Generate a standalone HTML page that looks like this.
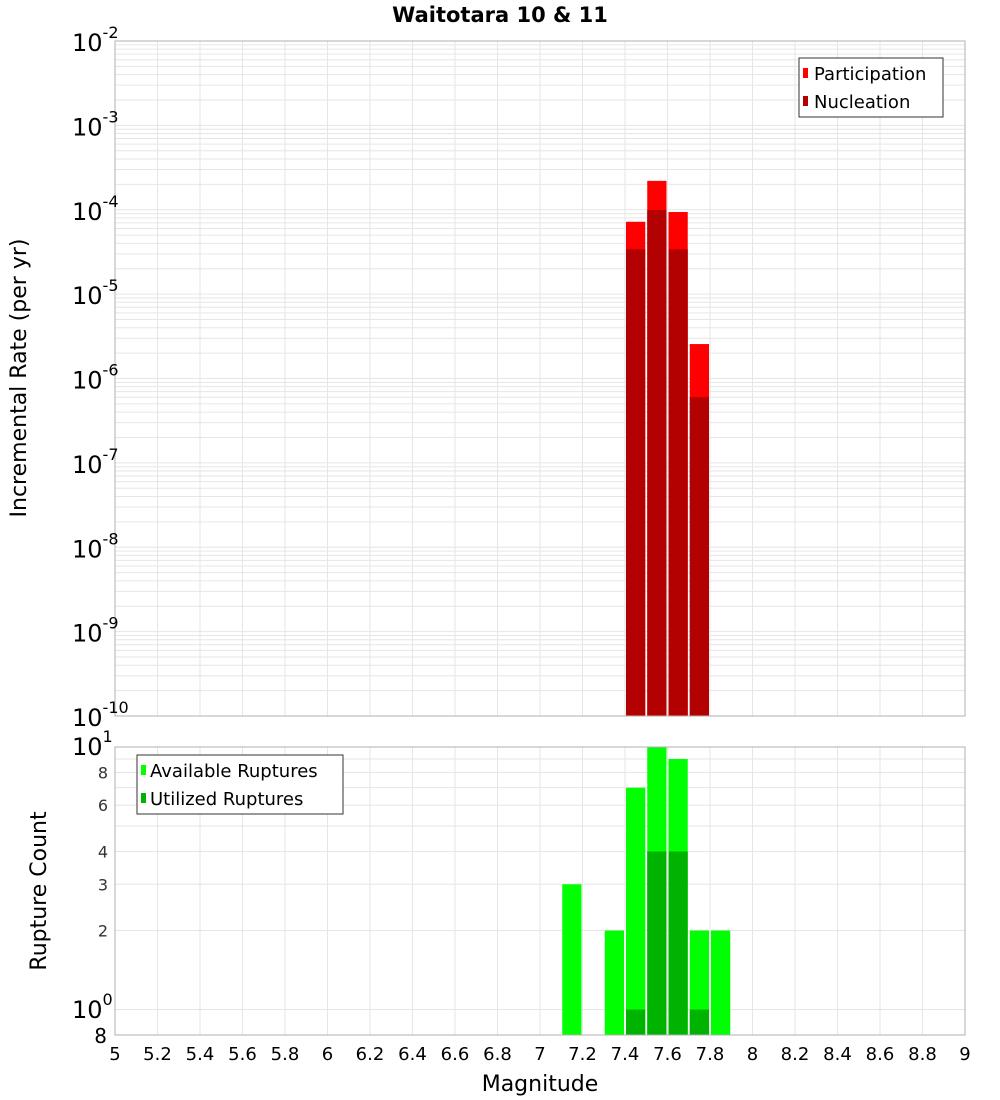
<!DOCTYPE html>
<html><head><meta charset="utf-8"><style>
body{margin:0;background:#fff}
svg{display:block;font-family:"DejaVu Sans","Liberation Sans",sans-serif}
</style></head><body>
<svg id="chart" width="1000" height="1100" xmlns="http://www.w3.org/2000/svg">
<text x="500" y="22" text-anchor="middle" font-size="21" font-weight="bold">Waitotara 10 &amp; 11</text>
<g id="grid"></g>
<g id="bars"></g>
<g id="axes"></g>
</svg>
<script>
const binStarts = [7.1, 7.3, 7.4, 7.5, 7.6, 7.7, 7.8];
const rateBins = [7.4, 7.5, 7.6, 7.7];
const participation = [7.2e-5, 2.2e-4, 9.4e-5, 2.56e-6];
const nucleation = [3.4e-5, 9.9e-5, 3.4e-5, 6.0e-7];
const availableRuptures = [3, 2, 7, 10, 9, 2, 2];
const utilizedRuptures = [0, 0, 1, 4, 4, 1, 0];
const xTicks = [5,5.2,5.4,5.6,5.8,6,6.2,6.4,6.6,6.8,7,7.2,7.4,7.6,7.8,8,8.2,8.4,8.6,8.8,9];
const topExps = [-10,-9,-8,-7,-6,-5,-4,-3,-2];
const bottomTicks = [2,3,4,6,8];

const NS="http://www.w3.org/2000/svg";
const L=115,R=965,T1=41,B1=716,T2=747,B2=1035;
const xs=v=>L+(v-5)/4*(R-L);
const y1=v=>T1+(-2-Math.log10(v))/8*(B1-T1);
const y2=v=>T2+(1-Math.log10(v))/(1-Math.log10(0.8))*(B2-T2);
function mk(parent,tag,a,txt){const e=document.createElementNS(NS,tag);for(const k in a)e.setAttribute(k,a[k]);if(txt!==undefined)e.textContent=txt;document.getElementById(parent).appendChild(e);return e;}
// grids
for(let e=-10;e<-2;e++)for(let m=1;m<10;m++){const y=y1(m*Math.pow(10,e));const l=mk('grid','line',{x1:L,x2:R,y1:y,y2:y,stroke:'#e6e6e6','stroke-width':1});

}
for(let m=1;m<=10;m++){const y=y2(m);const l=mk('grid','line',{x1:L,x2:R,y1:y,y2:y,stroke:'#e6e6e6','stroke-width':1});

}
xTicks.forEach(t=>{[[T1,B1],[T2,B2]].forEach(([a,b])=>{const l=mk('grid','line',{x1:xs(t),x2:xs(t),y1:a,y2:b,stroke:'#e6e6e6','stroke-width':1});

});});
// top bars
const bw=0.1*(R-L)/4;
rateBins.forEach((s,i)=>{
 const x=xs(s)+1,w=bw-2;
 const p=mk('bars','rect',{x:x,y:y1(participation[i]),width:w,height:B1-y1(participation[i]),fill:'#ff0000'});
 
 
 const n=mk('bars','rect',{x:x,y:y1(nucleation[i]),width:w,height:B1-y1(nucleation[i]),fill:'#b30000'});
 
 
});
binStarts.forEach((s,i)=>{
 const x=xs(s)+1,w=bw-2;
 const a=mk('bars','rect',{x:x,y:y2(availableRuptures[i]),width:w,height:B2-y2(availableRuptures[i]),fill:'#00ff00'});
 
 
 if(utilizedRuptures[i]>0){const u=mk('bars','rect',{x:x,y:y2(utilizedRuptures[i]),width:w,height:B2-y2(utilizedRuptures[i]),fill:'#00b300'});
 
 }
});
// frames
[[T1,B1],[T2,B2]].forEach(([a,b])=>{const r=mk('axes','rect',{x:L,y:a,width:R-L,height:b-a,fill:'none',stroke:'#b0b0b0'});

});
// top y ticks
topExps.forEach(e=>{const y=y1(Math.pow(10,e));
 const t=mk('axes','text',{x:104,y:y+10,'text-anchor':'end','font-size':24});
 
 
 t.textContent='10';
 const s=mk('axes','tspan',{dy:-13,'font-size':16});s.textContent=String(e);t.appendChild(s);
 t.setAttribute('x',72);t.setAttribute('text-anchor','start');
});
// bottom y ticks
[[1,'10','1',1008],[10,'10','1',747]].forEach(()=>{});
(function(){const t=mk('axes','text',{x:72,y:755,'font-size':24},'10');const s=mk('axes','tspan',{dy:-13,'font-size':16},'1');t.appendChild(s);
const t2=mk('axes','text',{x:72,y:1018,'font-size':24},'10');const s2=mk('axes','tspan',{dy:-13,'font-size':16},'0');t2.appendChild(s2);
const t3=mk('axes','text',{x:107,y:1043,'font-size':20,'text-anchor':'end'},'8');})();
bottomTicks.forEach(v=>{const t=mk('axes','text',{x:108,y:y2(v)+6,'text-anchor':'end','font-size':16,fill:'#333'},String(v));

});
// x ticks
xTicks.forEach(v=>{const t=mk('axes','text',{x:xs(v),y:1060,'text-anchor':'middle','font-size':18},String(v));

});
(function(){
const xt=mk('axes','text',{x:540,y:1091,'text-anchor':'middle','font-size':22},'Magnitude');
const y1t=mk('axes','text',{x:0,y:0,'text-anchor':'middle','font-size':22,transform:'translate(26,378) rotate(-90)'},'Incremental Rate (per yr)');
const y2t=mk('axes','text',{x:0,y:0,'text-anchor':'middle','font-size':22,transform:'translate(46,891) rotate(-90)'},'Rupture Count');
// legends
const lg=mk('axes','rect',{x:799,y:58,width:144,height:59,fill:'#fff',stroke:'#333'});
const s1=mk('axes','rect',{x:803,y:68,width:5,height:10,fill:'#ff0000'});
const l1=mk('axes','text',{x:814,y:80,'font-size':18},'Participation');
const s2=mk('axes','rect',{x:803,y:96,width:5,height:10,fill:'#b30000'});
const l2=mk('axes','text',{x:814,y:108,'font-size':18},'Nucleation');
const lg2=mk('axes','rect',{x:137,y:755,width:206,height:59,fill:'#fff',stroke:'#333'});
const s3=mk('axes','rect',{x:141,y:765,width:5,height:10,fill:'#00ff00'});
const l3=mk('axes','text',{x:150,y:777,'font-size':18},'Available Ruptures');
const s4=mk('axes','rect',{x:141,y:793,width:5,height:10,fill:'#00b300'});
const l4=mk('axes','text',{x:150,y:805,'font-size':18},'Utilized Ruptures');
})();
</script>
</body></html>
